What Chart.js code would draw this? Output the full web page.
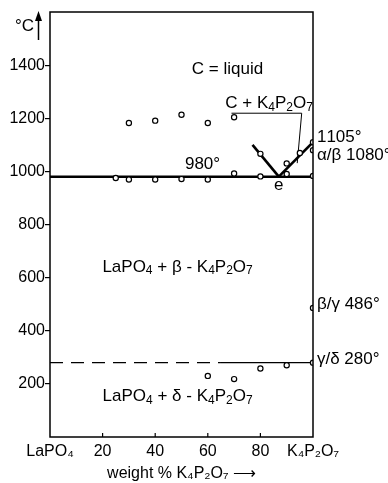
<!DOCTYPE html>
<html><head><meta charset="utf-8">
<script src="https://cdn.jsdelivr.net/npm/chart.js@4"></script>
<style>html,body{margin:0;padding:0;background:#fff}canvas{display:block}</style>
</head><body>
<canvas id="c" width="388" height="483"></canvas>
<script>
const FONT = '"Liberation Sans", Arial, sans-serif';

// ---- data ----
const liquidusX = [30, 40, 50, 60, 70];
const liquidusY = [1182, 1191, 1213, 1182, 1204];
const solidusX = [25, 30, 40, 50, 60, 70, 80, 90, 100];
const solidusY = [975, 969, 969, 971, 969, 992, 981, 990, 983];
const branchPtX = [80, 90, 95];
const branchPtY = [1066, 1030, 1069];
const transX = [100, 100, 100, 100];
const transY = [1110, 1080, 486, 280];
const lowX = [60, 70, 80, 90];
const lowY = [230, 218, 258, 270];
const eutecticLineX = [0, 100];
const eutecticLineY = [980, 980];
const liqLeftX = [77, 87];
const liqLeftY = [1100, 980];
const liqRightX = [87, 100];
const liqRightY = [980, 1110];
const deltaDashX = [0, 65];
const deltaDashY = [280, 280];
const deltaSolidX = [65, 100];
const deltaSolidY = [280, 280];
const leaderX = [69, 95.7, 94];
const leaderY = [1219, 1219, 1031];
const yTickLabels = ['', '200', '400', '600', '800', '1000', '1200', '1400', ''];
const xTickValues = [0, 20, 40, 60, 80, 100];
const xTickLabels = ['LaPO₄', '20', '40', '60', '80', 'K₄P₂O₇'];
const xTitle = 'weight % K₄P₂O₇ ⟶';

const pts = (xs, ys) => xs.map((x, i) => ({x, y: ys[i]}));
const marker = (xs, ys) => ({
  data: pts(xs, ys), showLine: false, pointRadius: 2.6, pointHoverRadius: 2.6,
  pointBackgroundColor: '#fff', pointBorderColor: '#000', pointBorderWidth: 1.2
});
const line = (xs, ys, w, dash) => ({
  data: pts(xs, ys), showLine: true, pointRadius: 0, borderColor: '#000',
  borderWidth: w, borderDash: dash || [], fill: false, tension: 0
});

// annotation texts ("_n" = subscript): [text, x value, y value, align]
const notes = [
  ['C = liquid', 67.5, 1385, 'center'],
  ['C + K_4P_2O_7', 83.3, 1256, 'center'],
  ['980°', 58, 1025, 'center'],
  ['e', 87, 948, 'center'],
  ['1105°', 101.5, 1127, 'left'],
  ['α/β 1080°', 101.5, 1060, 'left'],
  ['LaPO_4 + β - K_4P_2O_7', 48.5, 640, 'center'],
  ['β/γ 486°', 101.5, 500, 'left'],
  ['γ/δ 280°', 101.5, 292, 'left'],
  ['LaPO_4 + δ - K_4P_2O_7', 48.5, 152, 'center']
];

function richText(ctx, text, x, y, align) {
  const parts = [];
  let i = 0;
  while (i < text.length) {
    if (text[i] === '_') { parts.push([text[i + 1], true]); i += 2; }
    else { parts.push([text[i], false]); i++; }
  }
  const big = '17px ' + FONT, small = '12px ' + FONT;
  let w = 0;
  parts.forEach(([c, s]) => { ctx.font = s ? small : big; w += ctx.measureText(c).width; });
  let cx = align === 'center' ? x - w / 2 : x;
  ctx.textAlign = 'left';
  parts.forEach(([c, s]) => {
    ctx.font = s ? small : big;
    ctx.fillText(c, cx, s ? y + 4 : y);
    cx += ctx.measureText(c).width;
  });
}

const decor = {
  id: 'decor',
  afterDraw(chart) {
    const {ctx, chartArea: a, scales: {x, y}} = chart;
    ctx.save();
    ctx.strokeStyle = '#000';
    ctx.lineWidth = 1.5;
    ctx.strokeRect(a.left, a.top, a.right - a.left, a.bottom - a.top);
    // inward x ticks
    ctx.lineWidth = 1.2;
    xTickValues.slice(1, -1).forEach(v => {
      const px = x.getPixelForValue(v);
      ctx.beginPath(); ctx.moveTo(px, a.bottom); ctx.lineTo(px, a.bottom - 4); ctx.stroke();
    });
    // °C with arrow
    ctx.fillStyle = '#000';
    ctx.font = '17px ' + FONT;
    ctx.textAlign = 'right'; ctx.textBaseline = 'middle';
    ctx.fillText('°C', 34, 26);
    ctx.lineWidth = 1.5;
    ctx.beginPath(); ctx.moveTo(38.5, 40); ctx.lineTo(38.5, 16); ctx.stroke();
    ctx.beginPath(); ctx.moveTo(38.5, 11); ctx.lineTo(35, 21); ctx.lineTo(42, 21); ctx.closePath(); ctx.fill();
    // annotations
    notes.forEach(([t, vx, vy, al]) => richText(ctx, t, x.getPixelForValue(vx), y.getPixelForValue(vy), al));
    ctx.restore();
  }
};

new Chart(document.getElementById('c'), {
  type: 'scatter',
  data: {
    datasets: [
      marker(liquidusX, liquidusY),
      marker(solidusX, solidusY),
      marker(branchPtX, branchPtY),
      marker(transX, transY),
      marker(lowX, lowY),
      line(eutecticLineX, eutecticLineY, 2.6),
      line(liqLeftX, liqLeftY, 2.6),
      line(liqRightX, liqRightY, 2.6),
      line(deltaDashX, deltaDashY, 1.4, [13, 8]),
      line(deltaSolidX, deltaSolidY, 1.4),
      line(leaderX, leaderY, 1)
    ]
  },
  options: {
    responsive: false, animation: false, devicePixelRatio: 1,
    layout: {padding: {top: 12, right: 75, left: 0, bottom: 0}},
    plugins: {legend: {display: false}, tooltip: {enabled: false}},
    scales: {
      x: {
        type: 'linear', min: 0, max: 100,
        afterFit(s) { s.height = 46; },
        afterBuildTicks(s) { s.ticks = xTickValues.map(v => ({value: v})); },
        grid: {display: false, drawTicks: false},
        border: {display: false},
        ticks: {
          autoSkip: false, maxRotation: 0, padding: 5, color: '#000',
          font: {family: FONT, size: 16},
          callback: (v, i) => xTickLabels[i]
        },
        title: {display: true, text: xTitle, color: '#000', font: {family: FONT, size: 16}, padding: {top: 0, bottom: 0}}
      },
      y: {
        type: 'linear', min: 0, max: 1600,
        afterFit(s) { s.width = 50; },
        grid: {
          drawOnChartArea: false, drawTicks: true, tickLength: 5, lineWidth: 1.2,
          tickColor: c => (c.tick && (c.tick.value === 0 || c.tick.value === 1600)) ? 'rgba(0,0,0,0)' : '#000'
        },
        border: {display: false},
        ticks: {
          stepSize: 200, padding: 0, color: '#000',
          font: {family: FONT, size: 16},
          callback: (v, i) => yTickLabels[i]
        }
      }
    }
  },
  plugins: [decor]
});
</script>
</body></html>
